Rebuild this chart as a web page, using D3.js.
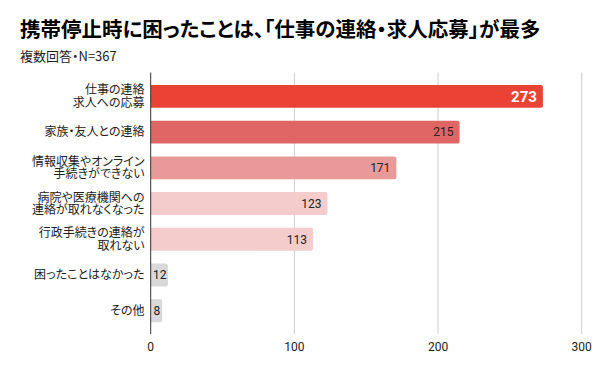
<!DOCTYPE html>
<html>
<head>
<meta charset="utf-8">
<script src="https://cdn.jsdelivr.net/npm/d3@7"></script>
<style>
  body { margin: 0; background: #fff; }
  svg text { font-family: Roboto, "Noto Sans CJK JP", sans-serif; }
  svg text.jp { font-family: "Noto Sans CJK JP", sans-serif; font-feature-settings: "palt"; }
</style>
</head>
<body>
<script>
// chart data
var categories = [
  ['仕事の連絡', '求人への応募'],
  ['家族・友人との連絡'],
  ['情報収集やオンライン', '手続きができない'],
  ['病院や医療機関への', '連絡が取れなくなった'],
  ['行政手続きの連絡が', '取れない'],
  ['困ったことはなかった'],
  ['その他']
];
var values = [273, 215, 171, 123, 113, 12, 8];
var barColors = ['#ea4335', '#e06666', '#ea9999', '#f4cccc', '#f4cccc', '#d9d9d9', '#d9d9d9'];
var xTicks = [0, 100, 200, 300];

var title = '携帯停止時に困ったことは、「仕事の連絡・求人応募」が最多';
var subtitle = '複数回答・N=367';

var W = 600, H = 371;
var svg = d3.select('body').append('svg').attr('width', W).attr('height', H);

svg.append('text').attr('class', 'jp').attr('x', 20).attr('y', 37)
  .attr('font-size', 20.5).attr('font-weight', 'bold').attr('fill', '#000')
  .text(title);

svg.append('text').attr('class', 'jp').attr('x', 20).attr('y', 61)
  .attr('font-size', 13).attr('fill', '#222')
  .text(subtitle);

// scales
var x = d3.scaleLinear().domain([0, 300]).range([150.7, 581.7]);
var y = d3.scaleBand().domain(d3.range(values.length)).range([78.5, 328.6]).paddingInner(0.36).paddingOuter(0.18);
var gridTop = 72.5, gridBottom = 334;

// grid
svg.append('g').selectAll('line').data(xTicks.slice(1)).join('line')
  .attr('x1', d => x(d)).attr('x2', d => x(d))
  .attr('y1', gridTop).attr('y2', gridBottom)
  .attr('stroke', '#cccccc').attr('stroke-width', 1);

// tick labels
svg.append('g').selectAll('text').data(xTicks).join('text')
  .attr('x', d => x(d)).attr('y', 351)
  .attr('text-anchor', 'middle').attr('font-size', 12).attr('fill', '#222')
  .text(d => d);

// bars, rounded on the right end only
function barPath(x0, x1, y0, h, r) {
  r = Math.min(r, (x1 - x0) / 2);
  return 'M' + x0 + ',' + y0 + 'H' + (x1 - r) + 'Q' + x1 + ',' + y0 + ' ' + x1 + ',' + (y0 + r) +
    'V' + (y0 + h - r) + 'Q' + x1 + ',' + (y0 + h) + ' ' + (x1 - r) + ',' + (y0 + h) + 'H' + x0 + 'Z';
}

svg.append('g').selectAll('path').data(values).join('path')
  .attr('d', (d, i) => barPath(x(0), x(d), y(i), y.bandwidth(), 2))
  .attr('fill', (d, i) => barColors[i]);

// value labels
svg.append('g').selectAll('text').data(values).join('text')
  .each(function(d, i) {
    var t = d3.select(this);
    var big = i === 0;
    t.attr('font-size', big ? 15 : 12)
      .attr('font-weight', big ? 'bold' : 'normal')
      .attr('fill', big ? '#fff' : '#222')
      .attr('y', y(i) + y.bandwidth() / 2)
      .attr('dy', '0.36em')
      .text(d);
    var w = x(d) - x(0);
    if (w < 30) {
      t.attr('x', (x(0) + x(d)) / 2 + 0.5).attr('text-anchor', 'middle');
    } else {
      t.attr('x', x(d) - 6).attr('text-anchor', 'end');
    }
  });

// category labels
var cat = svg.append('g').selectAll('text').data(categories).join('text')
  .attr('class', 'jp')
  .attr('font-size', 12).attr('fill', '#222').attr('text-anchor', 'end')
  .attr('transform', (d, i) => 'translate(144.5,' + (y(i) + y.bandwidth() / 2) + ')');
cat.selectAll('tspan').data(d => d.map((s, j) => ({ s: s, j: j, n: d.length }))).join('tspan')
  .attr('x', 0)
  .attr('y', d => (d.j - (d.n - 1) / 2) * 12.5)
  .attr('dy', '0.35em')
  .text(d => d.s);

// zero axis line
svg.append('line')
  .attr('x1', x(0)).attr('x2', x(0)).attr('y1', gridTop).attr('y2', gridBottom)
  .attr('stroke', '#333').attr('stroke-width', 1);
</script>
</body>
</html>
